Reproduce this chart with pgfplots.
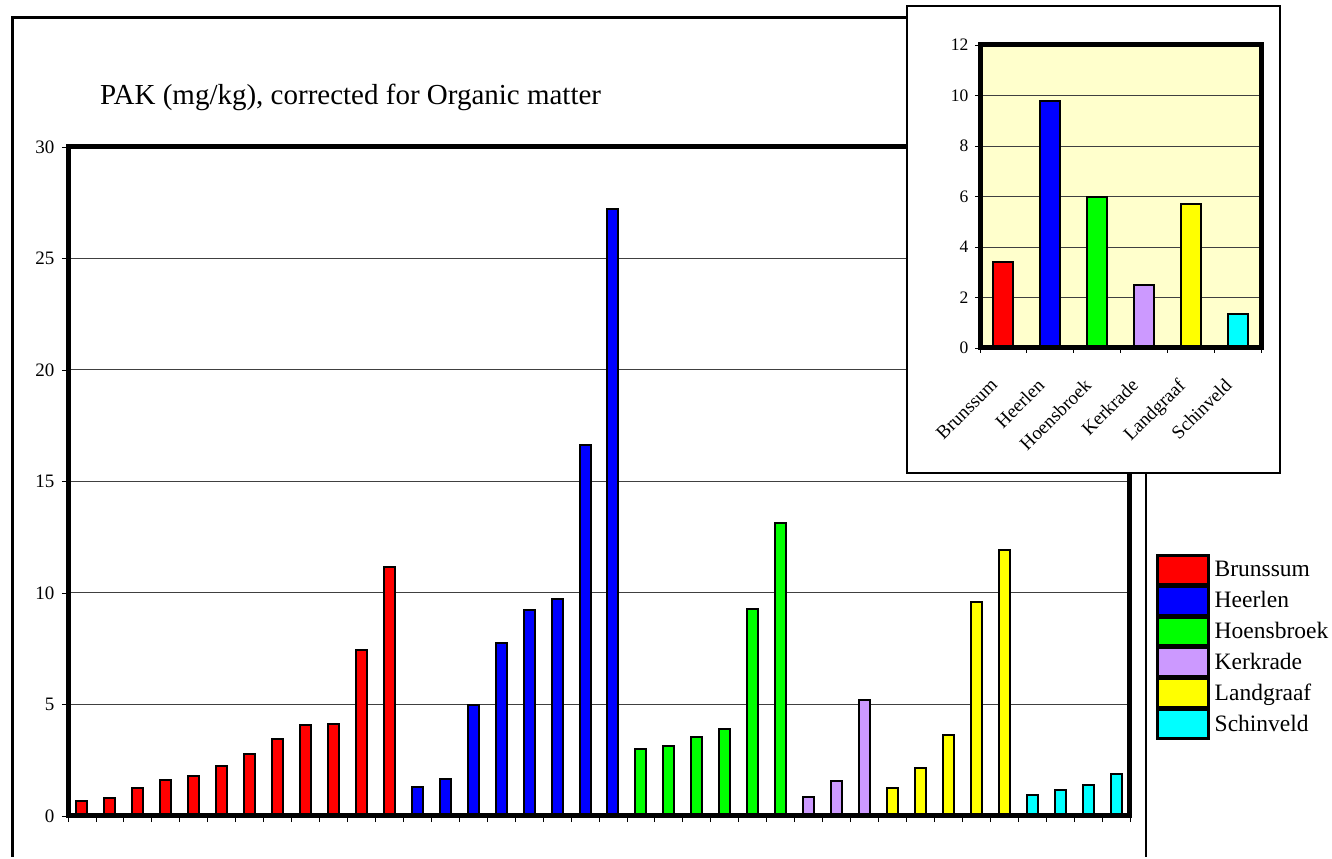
\documentclass[border=0pt]{standalone}
\usepackage{pgfplots}
\pgfplotsset{compat=1.18}
\usepackage{fontspec}
\setmainfont{Liberation Serif}

\definecolor{cRed}{RGB}{255,0,0}
\definecolor{cBlue}{RGB}{0,0,255}
\definecolor{cGreen}{RGB}{0,255,0}
\definecolor{cLilac}{RGB}{204,153,255}
\definecolor{cYellow}{RGB}{255,255,0}
\definecolor{cCyan}{RGB}{0,255,255}
\definecolor{cPaper}{RGB}{255,255,204}

\pgfplotsset{
  sw/.style={legend image code/.code={%
      \draw[##1, draw=black, line width=2.5pt] (0pt,-14.2pt) rectangle (51pt,14.2pt);}},
  bb/.style={fill=#1, draw=black, line width=2pt, bar shift=0pt},
  % thick frame redrawn over the bars
  thickbox/.style={after end axis/.code={%
      \draw[line width=5pt] (rel axis cs:0,0) rectangle (rel axis cs:1,1);}},
}

\begin{document}
\begin{tikzpicture}
\path (0,0) rectangle (1332pt,857pt);

% outer frame
\draw[line width=3pt] (12pt,0pt) -- (12pt,839pt) -- (1146pt,839pt);
\draw[line width=2pt] (1146pt,839pt) -- (1146pt,0pt);

\node[anchor=base west, inner sep=0pt, font=\fontsize{29}{33}\selectfont]
  at (100pt,752pt) {PAK (mg/kg), corrected for Organic matter};

\begin{axis}[
  at={(68pt,41pt)}, anchor=south west,
  scale only axis, width=1062pt, height=669pt,
  axis line style={line width=5pt},
  thickbox,
  ybar, bar width=11pt,
  xmin=0, xmax=38, ymin=0, ymax=30,
  xtick={0,...,38}, xticklabel={\phantom{0}},
  ytick={0,5,...,30},
  xtick pos=bottom, ytick pos=left,
  tick align=outside, major tick length=6pt,
  tick style={line width=0.8pt, black},
  ymajorgrids, grid style={line width=1pt, black!75},
  /pgf/number format/assume math mode=true,
  yticklabel style={font=\fontsize{19}{22}\selectfont, xshift=-4pt},
  legend style={at={(1.0245,0.3916)}, anchor=north west, draw=none, fill=none,
    inner sep=0pt, row sep=0pt, column sep=5pt,
    font=\fontsize{23.5}{25}\selectfont,
    nodes={inner sep=0pt}},
  legend cell align=left,
]
\addplot[bb=cRed, sw] coordinates {(0.5,0.66) (1.5,0.79) (2.5,1.26) (3.5,1.63) (4.5,1.81) (5.5,2.23) (6.5,2.80) (7.5,3.45) (8.5,4.08) (9.5,4.12) (10.5,7.46) (11.5,11.18)};
\addplot[bb=cBlue, sw] coordinates {(12.5,1.29) (13.5,1.67) (14.5,4.99) (15.5,7.74) (16.5,9.22) (17.5,9.74) (18.5,16.62) (19.5,27.23)};
\addplot[bb=cGreen, sw] coordinates {(20.5,2.99) (21.5,3.12) (22.5,3.54) (23.5,3.92) (24.5,9.27) (25.5,13.15)};
\addplot[bb=cLilac, sw] coordinates {(26.5,0.85) (27.5,1.55) (28.5,5.21)};
\addplot[bb=cYellow, sw] coordinates {(29.5,1.27) (30.5,2.17) (31.5,3.64) (32.5,9.60) (33.5,11.91)};
\addplot[bb=cCyan, sw] coordinates {(34.5,0.95) (35.5,1.16) (36.5,1.39) (37.5,1.88)};
\legend{Brunssum, Heerlen, Hoensbroek, Kerkrade, Landgraaf, Schinveld}
\end{axis}

% inset
\draw[line width=2pt, fill=white] (907pt,384pt) rectangle (1280pt,851pt);

\begin{axis}[
  at={(980pt,509pt)}, anchor=south west,
  scale only axis, width=281pt, height=303pt,
  axis line style={line width=5pt},
  thickbox,
  axis background/.style={fill=cPaper},
  ybar, bar width=20pt,
  xmin=-0.5, xmax=5.5, ymin=0, ymax=12,
  xtick={0,...,5},
  xticklabels={Brunssum, Heerlen, Hoensbroek, Kerkrade, Landgraaf, Schinveld},
  minor xtick={-0.5,0.5,...,5.5},
  major x tick style={draw=none},
  ytick={0,2,...,12},
  xtick pos=bottom, ytick pos=left,
  tick align=outside, major tick length=5pt, minor tick length=5pt,
  tick style={line width=0.8pt, black},
  ymajorgrids, grid style={line width=0.9pt, black!75},
  /pgf/number format/assume math mode=true,
  yticklabel style={font=\fontsize{17.5}{20}\selectfont, xshift=-3pt},
  xticklabel style={font=\fontsize{19}{21}\selectfont, xshift=-14pt, yshift=-24pt,
    rotate=45, anchor=north east, inner sep=0pt},
]
\addplot[bb=cRed] coordinates {(0,3.40)};
\addplot[bb=cBlue] coordinates {(1,9.80)};
\addplot[bb=cGreen] coordinates {(2,5.98)};
\addplot[bb=cLilac] coordinates {(3,2.51)};
\addplot[bb=cYellow] coordinates {(4,5.70)};
\addplot[bb=cCyan] coordinates {(5,1.33)};
\end{axis}
\end{tikzpicture}
\end{document}
